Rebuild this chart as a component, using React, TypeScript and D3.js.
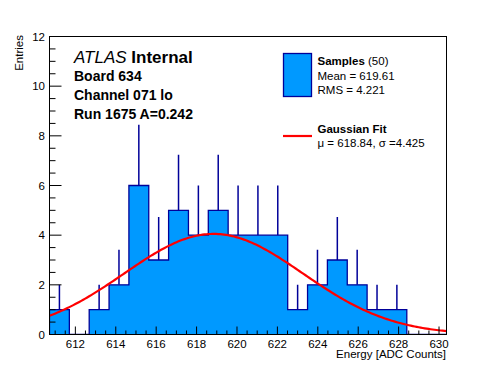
import React from 'react';
import * as d3 from 'd3';

// histogram of pedestal samples
const binCounts = [1, 0, 1, 2, 6, 3, 5, 4, 5, 4, 4, 4, 1, 2, 3, 2, 1, 1, 0, 0];
const xDomain = [610.72, 630.37];
const xTickLabels = [612, 614, 616, 618, 620, 622, 624, 626, 628, 630];
const yTickLabels = [0, 2, 4, 6, 8, 10, 12];
const fitParams = { mu: 618.84, sigma: 4.425, amp: 4.05 };

const headerLines = ['Board 634', 'Channel 071 lo', 'Run 1675 A=0.242'];

const W = 496, H = 372;
const frame = { left: 49.5, right: 446.5, top: 36.5, bottom: 334.5 };
const font = '"Liberation Sans", Arial, Helvetica, sans-serif';
const fillColor = '#0099ff';
const edgeColor = '#000099';

export default function App() {
	const x = d3.scaleLinear().domain(xDomain).range([frame.left, frame.right]);
	const y = d3.scaleLinear().domain([0, 12]).range([frame.bottom, frame.top]);

	const nb = binCounts.length;
	const bw = (xDomain[1] - xDomain[0]) / nb;
	const bins = binCounts.map((c, i) => ({ x0: xDomain[0] + i * bw, x1: xDomain[0] + (i + 1) * bw, c }));

	// step outline of the histogram
	const outline = d3.path();
	outline.moveTo(x(bins[0].x0), y(0));
	bins.forEach(b => {
		outline.lineTo(x(b.x0), y(b.c));
		outline.lineTo(x(b.x1), y(b.c));
	});
	outline.lineTo(x(bins[nb - 1].x1), y(0));

	const area = outline.toString() + 'Z';

	const gauss = (v: number) => fitParams.amp * Math.exp(-((v - fitParams.mu) ** 2) / (2 * fitParams.sigma ** 2));
	const fitLine = d3.line<number>().x(v => x(v)).y(v => y(gauss(v)));
	const fitPts = d3.range(0, 201).map(i => xDomain[0] + (xDomain[1] - xDomain[0]) * i / 200);

	const xMinor = d3.range(Math.ceil(xDomain[0] * 2) / 2, xDomain[1], 0.5);
	const yMinor = d3.range(0, 12.01, 0.5);

	return (
		<svg width={W} height={H} style={{ position: 'absolute', left: 0, top: 0, background: '#fff' }} fontFamily={font}>
			<defs>
				<clipPath id="frameClip">
					<rect x={frame.left} y={frame.top} width={frame.right - frame.left} height={frame.bottom - frame.top} />
				</clipPath>
			</defs>
			<g clipPath="url(#frameClip)">
				{/* error bars (upper halves show above the filled bars) */}
				{bins.filter(b => b.c > 0).map((b, i) => (
					<line key={'e' + i} x1={x((b.x0 + b.x1) / 2)} x2={x((b.x0 + b.x1) / 2)}
						y1={y(b.c)} y2={y(b.c + Math.sqrt(b.c))} stroke={edgeColor} strokeWidth={1.5} />
				))}
				<path d={area} fill={fillColor} stroke="none" />
				<path d={outline.toString()} fill="none" stroke={edgeColor} strokeWidth={1.3} />
				<path d={fitLine(fitPts) || ''} fill="none" stroke="#ff0000" strokeWidth={2.2} />
			</g>

			{/* axis ticks */}
			{xMinor.map((v, i) => {
				const major = Math.abs(v / 2 - Math.round(v / 2)) < 1e-6;
				return <line key={'xt' + i} x1={x(v)} x2={x(v)} y1={frame.bottom} y2={frame.bottom - (major ? 8 : 4)} stroke="#000" />;
			})}
			{yMinor.map((v, i) => {
				const major = Math.abs(v / 2 - Math.round(v / 2)) < 1e-6;
				return <line key={'yt' + i} x1={frame.left} x2={frame.left + (major ? 12 : 6)} y1={y(v)} y2={y(v)} stroke="#000" />;
			})}
			<rect x={frame.left} y={frame.top} width={frame.right - frame.left} height={frame.bottom - frame.top}
				fill="none" stroke="#000" strokeWidth={1} />

			{xTickLabels.map(v => (
				<text key={'xl' + v} x={x(v)} y={347.5} fontSize={11.5} textAnchor="middle">{v}</text>
			))}
			{yTickLabels.map(v => (
				<text key={'yl' + v} x={45} y={y(v) + 4} fontSize={11.5} textAnchor="end">{v}</text>
			))}
			<text x={446} y={358} fontSize={11.5} textAnchor="end">Energy [ADC Counts]</text>
			<text transform="translate(23,35) rotate(-90)" fontSize={11.5} textAnchor="end">Entries</text>

			{/* header */}
			<text x={74} y={62.7} fontSize={17}>
				<tspan fontStyle="italic">ATLAS</tspan>
				<tspan fontWeight="bold"> Internal</tspan>
			</text>
			{headerLines.map((t, i) => (
				<text key={t} x={74} y={81 + i * 19.2} fontSize={14} fontWeight="bold">{t}</text>
			))}

			{/* legend */}
			<rect x={283.5} y={53.5} width={28} height={43} fill={fillColor} stroke={edgeColor} strokeWidth={1.3} />
			<text x={317.5} y={65} fontSize={11.5}>
				<tspan fontWeight="bold">Samples</tspan>
				<tspan> (50)</tspan>
			</text>
			<text x={317.5} y={80} fontSize={11.5}>Mean = 619.61</text>
			<text x={317.5} y={93.5} fontSize={11.5}>RMS = 4.221</text>
			<line x1={283} x2={312} y1={136} y2={136} stroke="#ff0000" strokeWidth={2.2} />
			<text x={317.5} y={133.3} fontSize={11.5} fontWeight="bold">Gaussian Fit</text>
			<text x={317.5} y={146.5} fontSize={11.5}>μ = 618.84, σ =4.425</text>
		</svg>
	);
}
